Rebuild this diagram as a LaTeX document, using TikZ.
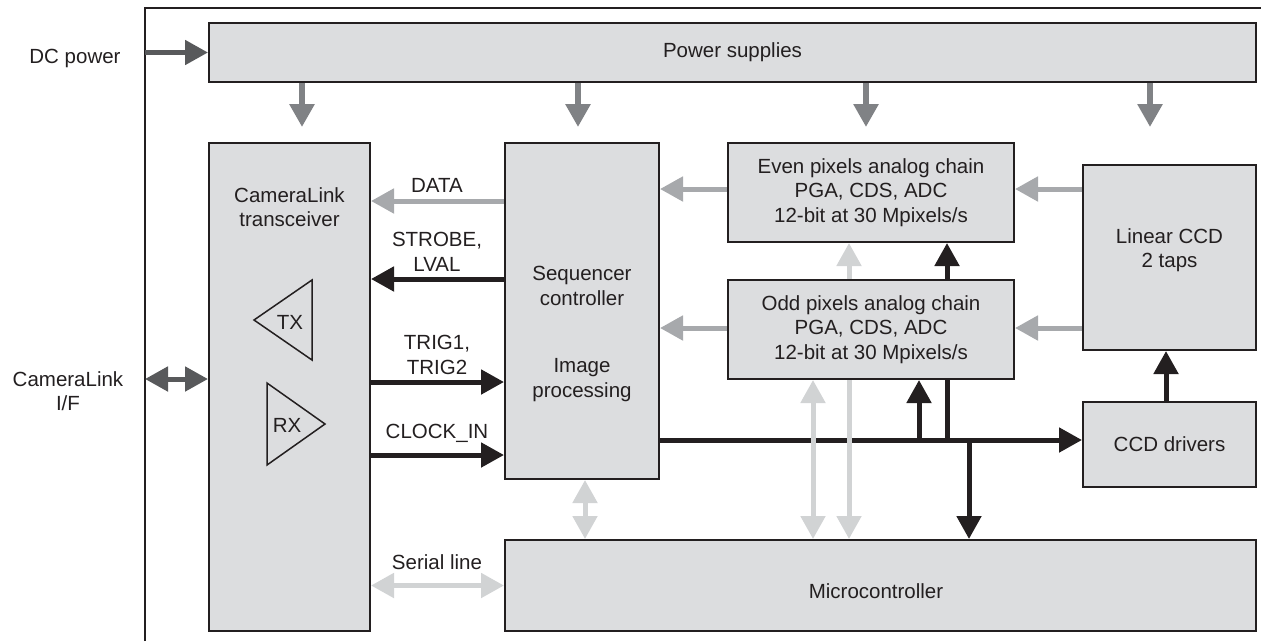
\documentclass[tikz,border=0pt]{standalone}
\usepackage{fontspec}
\setmainfont{Liberation Sans}
\usetikzlibrary{calc,arrows.meta}

\definecolor{boxfill}{HTML}{DCDDDF}
\definecolor{ink}{HTML}{231F20}
\definecolor{darkarr}{HTML}{58595B}
\definecolor{midarr}{HTML}{808285}
\definecolor{greyarr}{HTML}{A7A9AC}
\definecolor{lightarr}{HTML}{D1D3D4}

\tikzset{
  blk/.style={draw=ink, line width=2pt, fill=boxfill, inner sep=0pt},
  txt/.style={font=\fontsize{20.5pt}{24.5pt}\selectfont, text=ink, align=center},
  sig/.style={ink, line width=5pt},
  data/.style={greyarr, line width=5pt},
  link/.style={lightarr, line width=5pt},
  supply/.style={midarr, line width=6pt},
  io/.style={darkarr, line width=5pt},
  amp/.style={ink, line width=1.5pt}
}

\begin{document}
\begin{tikzpicture}[x=1pt,y=-1pt,>={Triangle[length=23pt,width=24pt]}]
    \useasboundingbox (0,0) rectangle (1261,641);
    \draw[ink,line width=2pt] (145,641) -- (145,8) -- (1261,8);

    \node[blk,txt,minimum width=1047pt,minimum height=59pt] (psu) at (732.5,52.5) {Power supplies};
    \node[blk,minimum width=161pt,minimum height=488pt] (clt) at (289.5,387) {};
    \node[txt] (clttxt) at (289.5,207) {CameraLink\\transceiver};
    \node[blk,minimum width=154pt,minimum height=336pt] (seq) at (582,311) {};
    \node[txt] (seqtxt) at (582,286) {Sequencer\\controller};
    \node[txt] (imgtxt) at (582,380) {Image\\processing};
    \node[blk,txt,minimum width=286pt,minimum height=99pt] (even) at (871,192.5) {Even pixels analog chain\\PGA, CDS, ADC\\12-bit at 30 Mpixels/s};
    \node[blk,txt,minimum width=286pt,minimum height=99pt] (odd) at (871,329.5) {Odd pixels analog chain\\PGA, CDS, ADC\\12-bit at 30 Mpixels/s};
    \node[blk,minimum width=173pt,minimum height=185pt] (ccd) at (1169.5,257.5) {};
    \node[txt] (ccdtxt) at (1169.5,250) {Linear CCD\\2 taps};
    \node[blk,txt,minimum width=173pt,minimum height=85pt] (drv) at (1169.5,444.5) {CCD drivers};
    \node[blk,minimum width=751pt,minimum height=91pt] (mcu) at (880.5,585.5) {};
    \node[txt] (mcutxt) at (876,591) {Microcontroller};

    \node[txt] (dc) at (75,58) {DC power};
    \node[txt] (clif) at (68,391) {CameraLink\\I/F};

    \draw[amp] (312,280) -- (254,320) -- (312,360) -- cycle;
    \node[txt] (tx) at (290,322) {TX};
    \draw[amp] (267,383) -- (325,424) -- (267,465) -- cycle;
    \node[txt] (rx) at (287,425) {RX};

    \coordinate (dcin) at (145,52.5);
    \coordinate (clin) at (145,379);
    \draw[io,->] (dcin) -- (psu.west);
    \draw[io,<->] (clin) -- (clin -| clt.west);
    \foreach \x in {302,578,866,1150}
    \draw[supply,->] (psu.south -| \x,0) -- (\x,127);

    \draw[data,->] (seq.west |- 0,201) -- (clt.east |- 0,201);
    \draw[sig,->] (seq.west |- 0,279) -- (clt.east |- 0,279);
    \draw[sig,->] (clt.east |- 0,382) -- (seq.west |- 0,382);
    \draw[sig,->] (clt.east |- 0,455) -- (seq.west |- 0,455);
    \node[txt] (datalbl) at (437,185) {DATA};
    \node[txt] (strlbl) at (437,252) {STROBE,\\LVAL};
    \node[txt] (trglbl) at (437,355) {TRIG1,\\TRIG2};
    \node[txt] (clklbl) at (437,433) {CLOCK\_IN};

    \draw[link,<->] (clt.east |- mcu.west) -- (mcu.west);
    \node[txt] (serlbl) at (437,562) {Serial line};
    \draw[link,<->] (seq.south -| 585,0) -- (mcu.north -| 585,0);

    \foreach \y in {189,328}
    {
        \draw[data,->] (even.west |- 0,\y) -- (seq.east |- 0,\y);
        \draw[data,->] (ccd.west |- 0,\y) -- (even.east |- 0,\y);
    }

    \coordinate (b1) at (919,440);
    \coordinate (b2) at (947,440);
    \coordinate (b3) at (969,440);
    \draw[sig,->] (seq.east |- b1) -- (drv.west |- b1);
    \draw[sig,->] (b1) -- (odd.south -| b1);
    \draw[sig] (b2) -- (odd.south -| b2);
    \draw[sig,->] (odd.north -| b2) -- (even.south -| b2);
    \draw[sig,->] (b3) -- (mcu.north -| b3);
    \draw[sig,->] (drv.north -| 1166,0) -- (ccd.south -| 1166,0);

    \draw[link,<->] (mcu.north -| 813,0) -- (odd.south -| 813,0);
    \draw[link,<-] (mcu.north -| 849,0) -- (odd.south -| 849,0);
    \draw[link,->] (odd.north -| 849,0) -- (even.south -| 849,0);
\end{tikzpicture}
\end{document}
